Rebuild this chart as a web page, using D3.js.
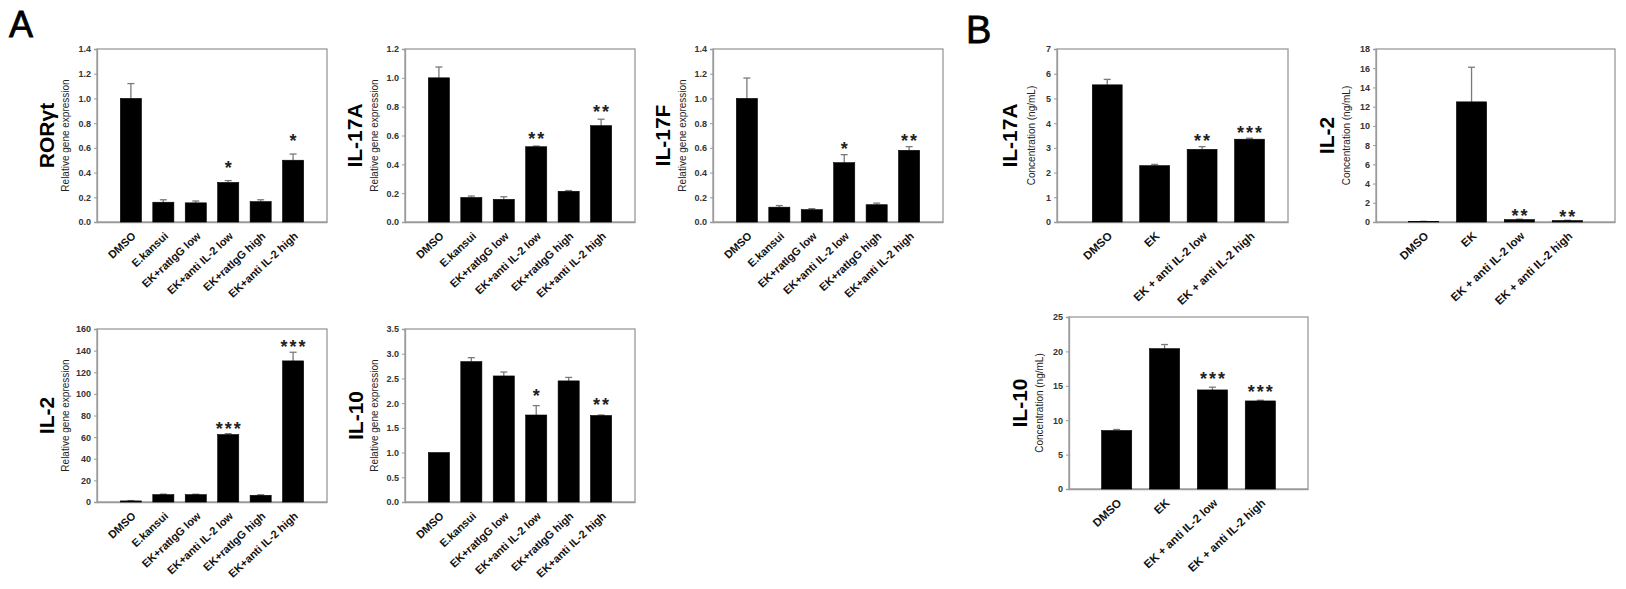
<!DOCTYPE html>
<html><head><meta charset="utf-8">
<script src="https://cdn.jsdelivr.net/npm/d3@7"></script>
<style>
body{margin:0;background:#fff}
svg{display:block}
text{font-family:"Liberation Sans",Arial,sans-serif}
</style>
</head><body>
<svg id="c" width="1626" height="589"></svg>
<script>
// ---------- DATA ----------
const catsA = ["DMSO","E.kansui","EK+ratIgG low","EK+anti IL-2 low","EK+ratIgG high","EK+anti IL-2 high"];
const catsB = ["DMSO","EK","EK + anti IL-2 low","EK + anti IL-2 high"];

const rorgtVals  = [1.00, 0.16, 0.155, 0.32, 0.165, 0.50];
const rorgtErr   = [0.12, 0.02, 0.015, 0.015, 0.015, 0.05];
const rorgtStars = ["", "", "", "*", "", "*"];

const il17aGeneVals  = [1.00, 0.17, 0.157, 0.522, 0.213, 0.668];
const il17aGeneErr   = [0.075, 0.01, 0.018, 0.005, 0.005, 0.045];
const il17aGeneStars = ["", "", "", "**", "", "**"];

const il17fVals  = [1.00, 0.12, 0.10, 0.48, 0.14, 0.58];
const il17fErr   = [0.165, 0.013, 0.008, 0.065, 0.013, 0.03];
const il17fStars = ["", "", "", "*", "", "**"];

const il2GeneVals  = [1.0, 6.8, 6.8, 62.4, 6.2, 130.5];
const il2GeneErr   = [0.3, 0.5, 0.4, 0.8, 0.5, 8];
const il2GeneStars = ["", "", "", "***", "", "***"];

const il10GeneVals  = [1.0, 2.84, 2.55, 1.76, 2.45, 1.75];
const il10GeneErr   = [0.0, 0.08, 0.08, 0.19, 0.07, 0.01];
const il10GeneStars = ["", "", "", "*", "", "**"];

const il17aProtVals  = [5.55, 2.28, 2.94, 3.35];
const il17aProtErr   = [0.22, 0.05, 0.11, 0.04];
const il17aProtStars = ["", "", "**", "***"];

const il2ProtVals  = [0.05, 12.5, 0.25, 0.15];
const il2ProtErr   = [0.02, 3.6, 0.05, 0.03];
const il2ProtStars = ["", "", "**", "**"];

const il10ProtVals  = [8.5, 20.4, 14.4, 12.8];
const il10ProtErr   = [0.15, 0.6, 0.4, 0.1];
const il10ProtStars = ["", "", "***", "***"];

const ticksRor  = [0, 0.2, 0.4, 0.6, 0.8, 1.0, 1.2, 1.4];
const labelsRor = ["0.0","0.2","0.4","0.6","0.8","1.0","1.2","1.4"];
const ticks12  = [0, 0.2, 0.4, 0.6, 0.8, 1.0, 1.2];
const labels12 = ["0.0","0.2","0.4","0.6","0.8","1.0","1.2"];
const ticks160  = [0, 20, 40, 60, 80, 100, 120, 140, 160];
const labels160 = ["0","20","40","60","80","100","120","140","160"];
const ticks35  = [0, 0.5, 1.0, 1.5, 2.0, 2.5, 3.0, 3.5];
const labels35 = ["0.0","0.5","1.0","1.5","2.0","2.5","3.0","3.5"];
const ticks7  = [0,1,2,3,4,5,6,7];
const labels7 = ["0","1","2","3","4","5","6","7"];
const ticks18  = [0,2,4,6,8,10,12,14,16,18];
const labels18 = ["0","2","4","6","8","10","12","14","16","18"];
const ticks25  = [0,5,10,15,20,25];
const labels25 = ["0","5","10","15","20","25"];

const subA = "Relative gene expression";
const subB = "Concentration (ng/mL)";

// ---------- LAYOUT ----------
const panels = [
  {title:"RORγt",  sub:subA, cats:catsA, vals:rorgtVals, err:rorgtErr, stars:rorgtStars, ticks:ticksRor, labels:labelsRor,
   x0:97, x1:327, y0:49, y1:222, pi:0.35, po:0.72, align:0.5, tdx:50, sdx:32, gap:17},
  {title:"IL-17A", sub:subA, cats:catsA, vals:il17aGeneVals, err:il17aGeneErr, stars:il17aGeneStars, ticks:ticks12, labels:labels12,
   x0:405, x1:635, y0:49, y1:222, pi:0.35, po:0.72, align:0.5, tdx:50, sdx:31, gap:11},
  {title:"IL-17F", sub:subA, cats:catsA, vals:il17fVals, err:il17fErr, stars:il17fStars, ticks:ticksRor, labels:labelsRor,
   x0:713, x1:943, y0:49, y1:222, pi:0.35, po:0.72, align:0.5, tdx:50, sdx:31, gap:10},
  {title:"IL-2",   sub:subA, cats:catsA, vals:il2GeneVals, err:il2GeneErr, stars:il2GeneStars, ticks:ticks160, labels:labels160,
   x0:97, x1:327, y0:329, y1:502, pi:0.35, po:0.72, align:0.5, tdx:50, sdx:32, gap:9},
  {title:"IL-10",  sub:subA, cats:catsA, vals:il10GeneVals, err:il10GeneErr, stars:il10GeneStars, ticks:ticks35, labels:labels35,
   x0:405, x1:635, y0:329, y1:502, pi:0.35, po:0.72, align:0.5, tdx:49, sdx:31, gap:14},
  {title:"IL-17A", sub:subB, cats:catsB, vals:il17aProtVals, err:il17aProtErr, stars:il17aProtStars, ticks:ticks7, labels:labels7,
   x0:1057, x1:1288, y0:49, y1:222, pi:0.37, po:0.62, align:0.6, tdx:47, sdx:26, gap:9.5},
  {title:"IL-2",   sub:subB, cats:catsB, vals:il2ProtVals, err:il2ProtErr, stars:il2ProtStars, ticks:ticks18, labels:labels18,
   x0:1376, x1:1615, y0:49, y1:222, pi:0.37, po:0.68, align:0.5, tdx:49, sdx:30, gap:7},
  {title:"IL-10",  sub:subB, cats:catsB, vals:il10ProtVals, err:il10ProtErr, stars:il10ProtStars, ticks:ticks25, labels:labels25,
   x0:1069, x1:1308, y0:317, y1:489, pi:0.37, po:0.68, align:0.5, tdx:49, sdx:30, gap:12.5}
];

const svg = d3.select("#c");
const frameCol = "#9a9a9a";

function drawPanel(p) {
  const g = svg.append("g");
  const x = d3.scaleBand().domain(p.cats).range([p.x0, p.x1])
    .paddingInner(p.pi).paddingOuter(p.po).align(p.align);
  const y = d3.scaleLinear().domain([p.ticks[0], p.ticks[p.ticks.length - 1]]).range([p.y1, p.y0]);

  // frame
  g.append("rect").attr("x", p.x0).attr("y", p.y0)
    .attr("width", p.x1 - p.x0).attr("height", p.y1 - p.y0)
    .attr("fill", "none").attr("stroke", frameCol).attr("stroke-width", 1.3);

  // y axis
  const ay = g.append("g").attr("transform", `translate(${p.x0},0)`)
    .call(d3.axisLeft(y).tickValues(p.ticks).tickFormat((d, i) => p.labels[i]).tickSize(3).tickPadding(3));
  ay.select(".domain").attr("stroke", frameCol).attr("stroke-width", 1.3);
  ay.selectAll(".tick line").attr("stroke", frameCol);
  ay.selectAll(".tick text").attr("font-size", 9).attr("font-weight", "bold").attr("fill", "#333")
    .attr("font-family", "Liberation Sans, Arial, sans-serif");

  // x axis labels
  const ax = g.append("g").attr("transform", `translate(0,${p.y1})`)
    .call(d3.axisBottom(x).tickSize(0).tickPadding(0));
  ax.select(".domain").attr("stroke", frameCol).attr("stroke-width", 1.3);
  ax.selectAll(".tick text")
    .attr("y", 0).attr("dy", "0.35em")
    .attr("transform", "translate(3,12) rotate(-43)")
    .attr("text-anchor", "end")
    .attr("font-size", p.cats.length === 4 ? 11.5 : 11).attr("font-weight", "bold").attr("fill", "#111")
    .attr("font-family", "Liberation Sans, Arial, sans-serif");

  const idx = d3.range(p.cats.length);

  // error bars (upper only)
  idx.forEach(i => {
    if (p.err[i] <= 0) return;
    const cx = x(p.cats[i]) + x.bandwidth() / 2;
    const yt = y(p.vals[i] + p.err[i]);
    g.append("line").attr("x1", cx).attr("x2", cx).attr("y1", y(p.vals[i])).attr("y2", yt)
      .attr("stroke", "#7a7a7a").attr("stroke-width", 1.3);
    g.append("line").attr("x1", cx - 3.5).attr("x2", cx + 3.5).attr("y1", yt).attr("y2", yt)
      .attr("stroke", "#7a7a7a").attr("stroke-width", 1.3);
  });

  // bars
  g.selectAll("rect.bar").data(idx).enter().append("rect").attr("class", "bar")
    .attr("x", i => x(p.cats[i])).attr("width", x.bandwidth())
    .attr("y", i => y(p.vals[i])).attr("height", i => y(0) - y(p.vals[i]))
    .attr("fill", "#000").attr("stroke", "#000").attr("stroke-width", 0.6);

  // stars
  idx.forEach(i => {
    if (!p.stars[i]) return;
    const cx = x(p.cats[i]) + x.bandwidth() / 2;
    const yt = y(p.vals[i] + p.err[i]);
    g.append("text").attr("x", cx + 1).attr("y", yt - p.gap + 10)
      .attr("text-anchor", "middle").attr("font-size", 18).attr("font-weight", "bold")
      .attr("letter-spacing", 2).attr("fill", "#222").text(p.stars[i]);
  });

  // titles
  const cy = (p.y0 + p.y1) / 2;
  g.append("text").attr("transform", `translate(${p.x0 - p.tdx},${cy}) rotate(-90)`)
    .attr("text-anchor", "middle").attr("dy", "0.35em")
    .attr("font-size", 21).attr("font-weight", "bold").attr("fill", "#000").text(p.title);
  g.append("text").attr("transform", `translate(${p.x0 - p.sdx},${cy}) rotate(-90)`)
    .attr("text-anchor", "middle").attr("dy", "0.35em")
    .attr("font-size", 10).attr("fill", "#222").text(p.sub);
}

panels.forEach(drawPanel);

svg.append("text").attr("x", 9).attr("y", 37).attr("font-size", 36).attr("fill", "#000")
  .attr("stroke", "#000").attr("stroke-width", 0.8).text("A");
svg.append("text").attr("x", 966).attr("y", 43).attr("font-size", 38).attr("fill", "#000")
  .attr("stroke", "#000").attr("stroke-width", 0.8).text("B");
</script>
</body></html>
